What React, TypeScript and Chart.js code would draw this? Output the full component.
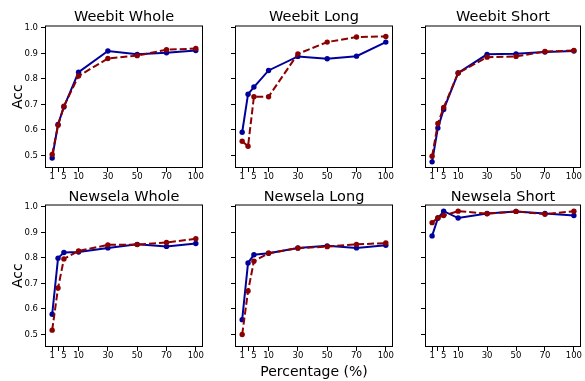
import React, { useEffect, useRef } from 'react';
import { Chart, registerables } from 'chart.js';

Chart.register(...registerables);

// ---- data ----
// training-data percentages and where each one sits on the (non-uniform) x axis
const xPercentages = [1, 3, 5, 10, 30, 50, 70, 100];
const xPositions = [0.1, 0.3, 0.5, 1, 2, 3, 4, 5];
const xTickLabels = ['1', '', '5', '10', '30', '50', '70', '100'];
const yTickValues = [0.5, 0.6, 0.7, 0.8, 0.9, 1.0];
const panelTitles = ['Weebit Whole', 'Weebit Long', 'Weebit Short', 'Newsela Whole', 'Newsela Long', 'Newsela Short'];
const yAxisLabel = 'Acc';
const xAxisLabel = 'Percentage (%)';

const weebitWholeSolid = [0.49, 0.622, 0.69, 0.826, 0.909, 0.896, 0.902, 0.911];
const weebitWholeDashed = [0.504, 0.618, 0.693, 0.811, 0.88, 0.891, 0.914, 0.919];
const weebitLongSolid = [0.591, 0.74, 0.768, 0.833, 0.888, 0.879, 0.889, 0.944];
const weebitLongDashed = [0.556, 0.536, 0.73, 0.73, 0.898, 0.944, 0.964, 0.966];
const weebitShortSolid = [0.475, 0.608, 0.68, 0.823, 0.896, 0.898, 0.905, 0.909];
const weebitShortDashed = [0.497, 0.625, 0.688, 0.823, 0.885, 0.888, 0.907, 0.911];
const newselaWholeSolid = [0.579, 0.799, 0.821, 0.823, 0.839, 0.853, 0.845, 0.856];
const newselaWholeDashed = [0.517, 0.682, 0.796, 0.827, 0.851, 0.852, 0.86, 0.875];
const newselaLongSolid = [0.558, 0.78, 0.812, 0.818, 0.839, 0.847, 0.839, 0.849];
const newselaLongDashed = [0.5, 0.67, 0.787, 0.818, 0.838, 0.844, 0.853, 0.858];
const newselaShortSolid = [0.886, 0.955, 0.983, 0.956, 0.974, 0.982, 0.974, 0.966];
const newselaShortDashed = [0.938, 0.957, 0.966, 0.983, 0.973, 0.982, 0.971, 0.983];

const solidSeries = [weebitWholeSolid, weebitLongSolid, weebitShortSolid, newselaWholeSolid, newselaLongSolid, newselaShortSolid];
const dashedSeries = [weebitWholeDashed, weebitLongDashed, weebitShortDashed, newselaWholeDashed, newselaLongDashed, newselaShortDashed];

// ---- style / layout ----
const BLUE = '#00009A';
const RED = '#8B0000';
const FONT = 'DejaVu Sans';

const colLayout = [
  { left: 0, width: 215, wy: 45, rightPad: 12 },
  { left: 205, width: 200, wy: 30, rightPad: 12 },
  { left: 395, width: 190, wy: 30, rightPad: 2 },
];
const rowLayout = [
  { top: 0, height: 183, titleTop: 10, titleBottom: 1, hx: 15 },
  { top: 183, height: 198, titleTop: 7, titleBottom: 0, hx: 34 },
];

const boxPlugin = {
  id: 'axesBox',
  afterDraw(chart: any) {
    const { ctx, chartArea: a } = chart;
    ctx.save();
    ctx.strokeStyle = '#000';
    ctx.lineWidth = 1;
    ctx.strokeRect(a.left + 0.5, a.top + 0.5, a.right - a.left - 1, a.bottom - a.top - 1);
    ctx.restore();
  },
};

function Panel({ index }: { index: number }) {
  const ref = useRef<HTMLCanvasElement | null>(null);
  const row = Math.floor(index / 3);
  const col = index % 3;
  const c = colLayout[col];
  const r = rowLayout[row];

  useEffect(() => {
    if (!ref.current) return;
    const solid = solidSeries[index];
    const dashed = dashedSeries[index];
    const span = xPositions[xPositions.length - 1] - xPositions[0];
    const xMin = xPositions[0] - 0.05 * span;
    const xMax = xPositions[xPositions.length - 1] + 0.05 * span;
    const chart = new Chart(ref.current, {
      type: 'line',
      data: {
        datasets: [
          {
            label: 'solid',
            data: xPositions.map((x, i) => ({ x, y: solid[i] })),
            borderColor: BLUE,
            backgroundColor: BLUE,
            borderWidth: 2,
            pointRadius: 2.7,
            pointBorderWidth: 0,
            pointBackgroundColor: BLUE,
            tension: 0,
            order: 1,
          },
          {
            label: 'dashed',
            data: xPositions.map((x, i) => ({ x, y: dashed[i] })),
            borderColor: RED,
            backgroundColor: RED,
            borderWidth: 2,
            borderDash: [7, 3],
            pointRadius: 2.7,
            pointBorderWidth: 0,
            pointBackgroundColor: RED,
            tension: 0,
            order: 0,
          },
        ],
      },
      options: {
        responsive: false,
        animation: false,
        events: [],
        layout: { padding: { left: 0, top: 0, right: c.rightPad, bottom: 0 } },
        plugins: {
          legend: { display: false },
          tooltip: { enabled: false },
          title: {
            display: true,
            text: panelTitles[index],
            fullSize: false,
            color: '#000',
            font: { family: FONT, size: 14.5, weight: 'normal', lineHeight: 1 },
            padding: { top: r.titleTop, bottom: r.titleBottom },
          },
        },
        scales: {
          x: {
            type: 'linear',
            min: xMin,
            max: xMax,
            afterBuildTicks: (s: any) => {
              s.ticks = xPositions.map((v) => ({ value: v }));
            },
            afterFit: (s: any) => {
              s.height = r.hx;
              s.paddingLeft = 0;
              s.paddingRight = 0;
            },
            ticks: {
              callback: (_v: any, i: number) => xTickLabels[i],
              autoSkip: false,
              maxRotation: 0,
              minRotation: 0,
              padding: 0,
              color: '#000',
              font: { family: FONT, size: 8.5 },
            },
            grid: { drawOnChartArea: false, drawTicks: true, tickLength: 4, color: '#000', tickColor: '#000' },
            border: { display: false },
            title: {
              display: row === 1 && col === 1,
              text: xAxisLabel,
              color: '#000',
              font: { family: FONT, size: 14, lineHeight: 1.2 },
              padding: { top: 0, bottom: 0 },
            },
          },
          y: {
            type: 'linear',
            min: 0.451,
            max: 1.009,
            afterBuildTicks: (s: any) => {
              s.ticks = yTickValues.map((v) => ({ value: v }));
            },
            afterFit: (s: any) => {
              s.width = c.wy;
              s.paddingTop = 0;
              s.paddingBottom = 0;
            },
            ticks: {
              display: col === 0,
              callback: (v: any) => Number(v).toFixed(1),
              padding: 3,
              color: '#000',
              font: { family: FONT, size: 8.5 },
            },
            grid: { drawOnChartArea: false, drawTicks: true, tickLength: 4, color: '#000', tickColor: '#000' },
            border: { display: false },
            title: {
              display: col === 0,
              text: yAxisLabel,
              color: '#000',
              font: { family: FONT, size: 14, lineHeight: 1.2 },
              padding: { top: 10, bottom: 0 },
            },
          },
        },
      } as any,
      plugins: [boxPlugin],
    });
    return () => chart.destroy();
  }, [index]);

  return (
    <canvas
      ref={ref}
      width={c.width}
      height={r.height}
      style={{ position: 'absolute', left: c.left, top: r.top, width: c.width, height: r.height, display: 'block' }}
    />
  );
}

export default function App() {
  return (
    <div style={{ position: 'absolute', left: 0, top: 0, width: 585, height: 381, background: '#fff', overflow: 'hidden' }}>
      {panelTitles.map((_, i) => (
        <Panel key={i} index={i} />
      ))}
    </div>
  );
}
